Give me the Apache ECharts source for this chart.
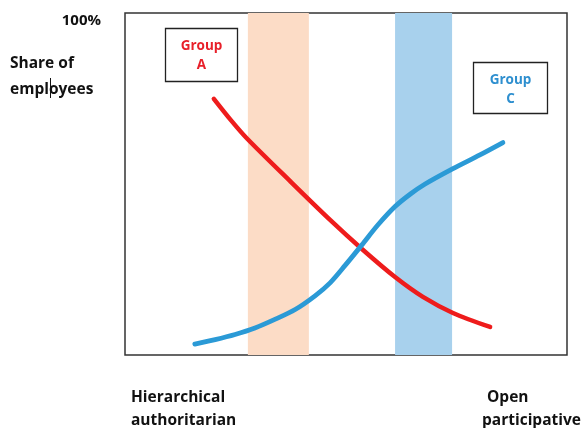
<!DOCTYPE html>
<html>
<head>
<meta charset="utf-8">
<script src="https://cdn.jsdelivr.net/npm/echarts@6/dist/echarts.min.js"></script>
<style>html,body{margin:0;padding:0;background:#fff}#c{width:583px;height:428px}</style>
</head>
<body>
<div id="c"></div>
<script>
// Data (x: 0 = hierarchical/authoritarian, 100 = open/participative; y: share of employees %)
const groupA_x = [20.1, 24.0, 27.6, 37.3, 46.4, 53.6, 61.1, 67.4, 74.2, 82.6];
const groupA_y = [74.9, 68.6, 63.3, 50.9, 39.5, 31.0, 22.8, 17.0, 12.3, 8.2];
const groupC_x = [15.8, 20.4, 24.9, 29.4, 33.9, 38.5, 43.0, 46.4, 49.8, 53.6, 57.2, 61.1, 64.5, 67.9, 74.2, 80.3, 85.5];
const groupC_y = [3.2, 4.5, 6.0, 7.9, 10.4, 13.3, 17.3, 21.1, 26.2, 32.2, 38.0, 43.4, 47.0, 50.0, 54.5, 58.5, 62.1];
const bandA = [27.8, 41.6];
const bandC = [61.1, 74.0];
const yMaxLabel = '100%';
const yTitle = ['Share of', 'employees'];
const xLeftLabel = ['Hierarchical', 'authoritarian'];
const xRightLabel = ['Open', 'participative'];
const groupNames = ['Group\nA', 'Group\nC'];

const font = '"Open Sans", "Liberation Sans", sans-serif';
const chart = echarts.init(document.getElementById('c'), null, {renderer: 'canvas'});
const zip = (xs, ys) => xs.map((x, i) => [x, ys[i]]);

chart.setOption({
  animation: false,
  backgroundColor: '#fff',
  grid: {left: 125, top: 13, width: 442, height: 342, show: true, borderColor: '#333', borderWidth: 1.5, backgroundColor: 'transparent'},
  xAxis: {type: 'value', min: 0, max: 100, show: false},
  yAxis: {type: 'value', min: 0, max: 100, show: false},
  series: [
    {
      type: 'line', name: 'bands', data: [], silent: true,
      markArea: {
        silent: true,
        data: [
          [{xAxis: bandA[0], yAxis: 0, itemStyle: {color: '#fcdcc6'}}, {xAxis: bandA[1], yAxis: 100}],
          [{xAxis: bandC[0], yAxis: 0, itemStyle: {color: '#a8d1ed'}}, {xAxis: bandC[1], yAxis: 100}]
        ]
      }
    },
    {
      type: 'line', name: 'Group A', data: zip(groupA_x, groupA_y), smooth: 0.3,
      showSymbol: false, lineStyle: {color: '#ee1c1c', width: 4.5, cap: 'round'}, z: 3
    },
    {
      type: 'line', name: 'Group C', data: zip(groupC_x, groupC_y), smooth: 0.3,
      showSymbol: false, lineStyle: {color: '#2b9ad6', width: 4.8, cap: 'round'}, z: 4
    }
  ],
  graphic: [
    {type: 'text', right: 583 - 101, top: 13, style: {text: yMaxLabel, font: 'bold 15px ' + font, fill: '#111'}},
    {type: 'text', left: 10, top: 51, style: {text: yTitle.join('\n'), font: 'bold 15.5px ' + font, fill: '#111', lineHeight: 26}},
    {type: 'line', shape: {x1: 50.5, y1: 78, x2: 50.5, y2: 98}, style: {stroke: '#111', lineWidth: 1}},
    {type: 'text', left: 131, top: 386, style: {text: xLeftLabel.join('\n'), font: 'bold 15.5px ' + font, fill: '#111', lineHeight: 23}},
    {type: 'text', left: 487, top: 386, style: {text: xRightLabel[0], font: 'bold 15.5px ' + font, fill: '#111', lineHeight: 23}},
    {type: 'text', left: 482, top: 409, style: {text: xRightLabel[1], font: 'bold 15.5px ' + font, fill: '#111', lineHeight: 23}},
    {type: 'rect', shape: {x: 165.5, y: 28.5, width: 72, height: 53}, style: {fill: '#fff', stroke: '#222', lineWidth: 1.3}, z: 10},
    {type: 'text', x: 201.5, y: 56, style: {text: groupNames[0], font: 'bold 13.5px ' + font, fill: '#e8202a', align: 'center', verticalAlign: 'middle', lineHeight: 19}, z: 11},
    {type: 'rect', shape: {x: 473.5, y: 62.5, width: 74, height: 51}, style: {fill: '#fff', stroke: '#222', lineWidth: 1.3}, z: 10},
    {type: 'text', x: 510.5, y: 90, style: {text: groupNames[1], font: 'bold 13.5px ' + font, fill: '#2e8fcf', align: 'center', verticalAlign: 'middle', lineHeight: 19}, z: 11}
  ]
});
</script>
</body>
</html>
